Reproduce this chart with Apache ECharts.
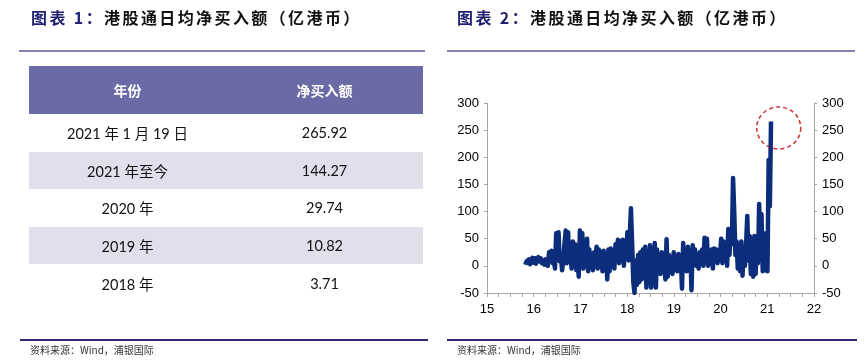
<!DOCTYPE html>
<html>
<head>
<meta charset="utf-8">
<script src="https://cdn.jsdelivr.net/npm/echarts@6/dist/echarts.min.js"></script>
<style>
  body { margin:0; width:866px; height:364px; background:#fff; overflow:hidden;
         font-family:"Noto Sans CJK SC", sans-serif; position:relative; }
  #chart { position:absolute; left:0; top:0; width:866px; height:364px; }
  .title { position:absolute; top:6px; font-size:16px; font-weight:bold; letter-spacing:2.4px;
           color:#111; white-space:nowrap; line-height:22px; }
  .title .num { color:#1f1f72; }
  .uline { position:absolute; top:50px; height:2px; background:#8a7fb0; }
  .fline { position:absolute; top:339px; height:2px; background:#2e2a6e; }
  .src { position:absolute; top:343px; font-size:10px; color:#333; line-height:14px; }
  table { position:absolute; left:29px; top:66px; width:394px; border-collapse:collapse;
          font-family:Lato, "Noto Sans CJK SC", sans-serif; font-size:14.5px; color:#111; }
  th { background:#6a6aa6; color:#fff; height:48px; font-weight:bold; font-size:14px;
       font-family:"Noto Sans CJK SC", sans-serif; padding:0; width:50%; }
  td { height:37.6px; text-align:center; padding:0; }
  tr.g td { background:#e0e0ec; }
</style>
</head>
<body>
<div id="chart"></div>

<div class="title" style="left:31px"><span class="num">图表 1：</span>港股通日均净买入额（亿港币）</div>
<div class="uline" style="left:19px;width:406px"></div>
<table id="tbl"></table>
<div class="fline" style="left:20px;width:408px"></div>
<div class="src" style="left:30px">资料来源：Wind，浦银国际</div>

<div class="title" style="left:457px"><span class="num">图表 2：</span>港股通日均净买入额（亿港币）</div>
<div class="uline" style="left:447px;width:408px"></div>
<div class="fline" style="left:447px;width:410px"></div>
<div class="src" style="left:457px">资料来源：Wind，浦银国际</div>

<script>
// 表格数据
var tableHead = ['年份', '净买入额'];
var tableYears = ['2021 年 1 月 19 日', '2021 年至今', '2020 年', '2019 年', '2018 年'];
var tableValues = ['265.92', '144.27', '29.74', '10.82', '3.71'];

// 日均净买入额 (亿港币), 从图上读出, 起始约 15.82 年, 结束约 21.08 年
var startYear = 15.82;
var endYear = 21.08;
var netBuy = [
  2, 8, 5, 12, 3, 10, 15, 6,
  14, 4, 12, 16, 8, 14, 5, 10, 2, 12, 8, 0,
  25, 12, 28, 5, 15, -5, 60, 20, 62, 8,
  15, -8, 10, 40, 65, 5, 62, 10, 30, -5,
  45, 0, 40, -8, 15, -20, 65, 10, 60, -5,
  20, 5, 50, -10, 30, 0, 20, -8, 25, 5,
  35, -5, 30, 0, 25, -10, 28, 0, 22, -25,
  30, -10, 32, 5, 25, -5, 40, 10, 48, 5,
  45, 15, 48, 0, 35, 20, 62, 10, 55, 106,
  40, -30, -50, 10, -35, 20, -30, 25, -25, 30,
  -15, 35, -40, 20, -30, 38, -40, 15, -20, 42,
  -40, 30, -10, 20, -15, 25, -5, 15, -25, 49,
  -20, 20, -10, 15, -15, 25, -5, 18, -10, 22,
  0, 15, -42, 42, 5, 30, -10, 35, 0, 25,
  -45, 38, 5, 30, 0, 20, -5, 25, 5, 30,
  0, 52, 10, 50, 0, 25, 5, 30, -5, 32,
  8, 30, 5, 28, 15, 50, 5, 45, 10, 40,
  0, 68, 20, 65, 40, 162, 100, 20, 45, -5,
  40, -10, 45, -18, 30, 0, 40, 92, 10, 55,
  -15, 50, -20, 55, -15, 45, 5, 114, 20, 95,
  -10, 60, -8, 50, -10, 195, 110, 266
];
// 红色虚线圈的位置
var circleMark = [21.245, 254];

// 画表格
var html = '<tr><th>' + tableHead[0] + '</th><th>' + tableHead[1] + '</th></tr>';
for (var i = 0; i < tableYears.length; i++) {
  html += '<tr' + (i % 2 == 1 ? ' class="g"' : '') + '><td>' + tableYears[i] + '</td><td>' + tableValues[i] + '</td></tr>';
}
document.getElementById('tbl').innerHTML = html;

var step = (endYear - startYear) / (netBuy.length - 1);
var lineData = netBuy.map(function (v, i) { return [startYear + i * step, v]; });

var axisLabelStyle = { color: '#000', fontSize: 13, fontFamily: 'Liberation Sans, Arial, sans-serif' };
var yAxisCommon = {
  type: 'value', min: -50, max: 300, interval: 50,
  axisLine: { show: true, lineStyle: { color: '#a6a6a6' } },
  axisTick: { show: true, length: 3, lineStyle: { color: '#a6a6a6' } },
  splitLine: { show: false },
  axisLabel: axisLabelStyle
};

var myChart = echarts.init(document.getElementById('chart'));
var option = {
  animation: false,
  grid: { left: 487, right: 52, top: 103, bottom: 71, containLabel: false },
  xAxis: {
    type: 'value', min: 15, max: 22, interval: 1,
    axisLine: { show: true, onZero: false, lineStyle: { color: '#a6a6a6' } },
    axisTick: { show: true, length: 4, lineStyle: { color: '#a6a6a6' } },
    minorTick: { show: true, splitNumber: 4, length: 4, lineStyle: { color: '#a6a6a6' } },
    splitLine: { show: false },
    axisLabel: Object.assign({ margin: 10 }, axisLabelStyle)
  },
  yAxis: [
    Object.assign({ position: 'left', axisLabel: Object.assign({ margin: 9 }, axisLabelStyle) }, yAxisCommon),
    Object.assign({}, yAxisCommon, { position: 'right', axisLabel: Object.assign({ margin: 8 }, axisLabelStyle) })
  ],
  series: [
    {
      name: '港股通日均净买入额',
      type: 'line',
      data: lineData,
      showSymbol: false,
      lineStyle: { color: '#0b2d7c', width: 4.5, join: 'round' },
      silent: true
    },
    {
      type: 'scatter',
      data: [circleMark],
      symbol: 'circle',
      symbolSize: [44, 42],
      itemStyle: { color: 'rgba(0,0,0,0)', borderColor: '#c00000', borderWidth: 1.5, borderType: [4, 3] },
      silent: true,
      z: 5
    }
  ]
};
myChart.setOption(option);
</script>
</body>
</html>
